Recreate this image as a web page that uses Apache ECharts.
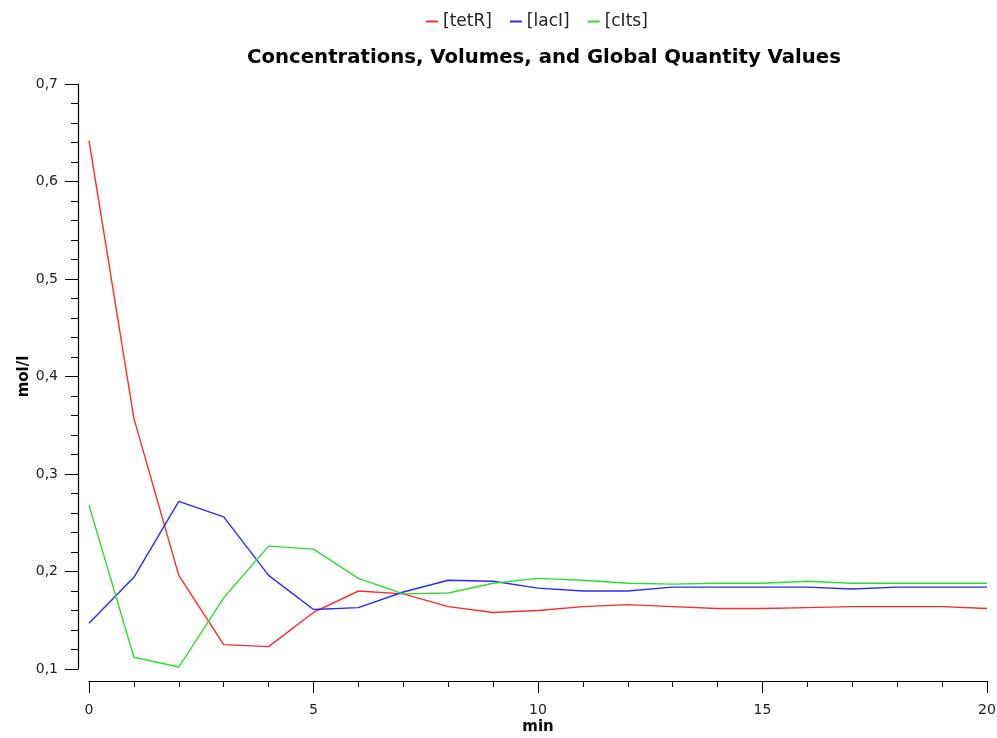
<!DOCTYPE html>
<html><head><meta charset="utf-8">
<script src="https://cdn.jsdelivr.net/npm/echarts@6/dist/echarts.min.js"></script>
<style>html,body{margin:0;padding:0;background:#fff}#c{width:997px;height:738px}</style>
</head><body><div id="c"></div>
<script>
const time = [0,1,2,3,4,5,6,7,8,9,10,11,12,13,14,15,16,17,18,19,20];
const tetR = [0.642,0.357,0.196,0.125,0.123,0.158,0.180,0.177,0.164,0.158,0.160,0.164,0.166,0.164,0.162,0.162,0.163,0.164,0.164,0.164,0.162];
const lacI = [0.147,0.194,0.272,0.256,0.196,0.161,0.163,0.179,0.191,0.190,0.183,0.180,0.180,0.184,0.184,0.184,0.184,0.182,0.184,0.184,0.184];
const cIts = [0.268,0.112,0.102,0.173,0.226,0.223,0.193,0.177,0.178,0.188,0.193,0.191,0.188,0.187,0.188,0.188,0.190,0.188,0.188,0.188,0.188];
const names = ['[tetR]','[lacI]','[cIts]'];
const colors = ['#ff2a2a','#2a2aff','#2ae02a'];
const seriesVals = [tetR, lacI, cIts];

const chart = echarts.init(document.getElementById('c'));
const font = 'DejaVu Sans';
chart.setOption({
  animation:false,
  backgroundColor:'#fff',
  title:{text:'Concentrations, Volumes, and Global Quantity Values',left:539,top:43,textAlign:'center',
    textStyle:{fontFamily:font,fontWeight:'bold',fontSize:19.7,color:'#000'}},
  legend:{top:8,left:421,itemWidth:12,itemHeight:2,icon:'rect',itemGap:18,
    textStyle:{fontFamily:font,fontSize:17,color:'#222'},data:names},
  grid:{left:89,right:10,top:84,bottom:69,containLabel:false,outerBoundsMode:'none'},
  xAxis:{type:'value',min:0,max:20,interval:5,offset:12,name:'min',nameLocation:'middle',nameGap:39,
    nameMoveOverlap:false,
    nameTextStyle:{fontFamily:font,fontWeight:'bold',fontSize:15,color:'#000'},
    axisLine:{onZero:false,lineStyle:{color:'#000',width:1.2}},
    axisTick:{length:12,lineStyle:{color:'#000'}},
    minorTick:{show:true,splitNumber:5,length:6,lineStyle:{color:'#000'}},
    axisLabel:{fontFamily:font,fontSize:14,color:'#222',margin:22},
    splitLine:{show:false}},
  yAxis:{type:'value',min:0.1,max:0.7,interval:0.1,offset:11,name:'mol/l',nameLocation:'middle',nameGap:46,
    nameMoveOverlap:false,
    nameTextStyle:{fontFamily:font,fontWeight:'bold',fontSize:15,color:'#000'},
    axisLine:{show:true,onZero:false,lineStyle:{color:'#000',width:1.2}},
    axisTick:{show:true,length:13,lineStyle:{color:'#000'}},
    minorTick:{show:true,splitNumber:5,length:7,lineStyle:{color:'#000'}},
    axisLabel:{fontFamily:font,fontSize:14,color:'#222',margin:20,formatter:v=>v.toFixed(1).replace('.',',')},
    splitLine:{show:false}},
  series: names.map((n,i)=>({name:n,type:'line',symbol:'none',color:colors[i],
    lineStyle:{width:1.4,color:colors[i]},
    data: time.map((t,j)=>[t,seriesVals[i][j]])}))
});
</script></body></html>
